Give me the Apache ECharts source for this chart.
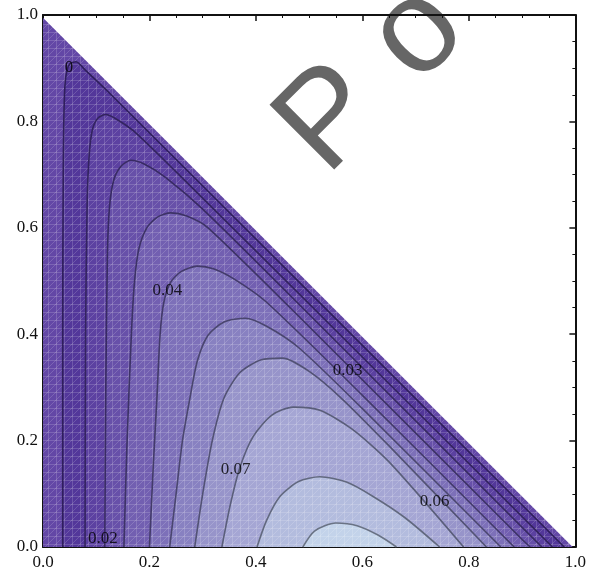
<!DOCTYPE html>
<html><head><meta charset="utf-8">
<script src="https://cdn.jsdelivr.net/npm/echarts@6/dist/echarts.min.js"></script>
<style>html,body{margin:0;padding:0;background:#fff}#c{width:589px;height:574px}</style>
</head><body><div id="c"></div>
<script>
// ---- data ----
const tickLabels = ['0.0','0.2','0.4','0.6','0.8','1.0'];
const triangle = [[0,0.995],[0.995,0]];
const c1 = [[0.037,0],[0.037,0.4],[0.038,0.7],[0.040,0.84],[0.043,0.885],[0.05,0.908],[0.062,0.912],[0.08,0.896],[0.12,0.858],[0.5,0.479],[0.9,0.079],[0.979,0]];
const c2 = [[0.079,0],[0.080,0.4],[0.083,0.65],[0.087,0.74],[0.093,0.785],[0.103,0.806],[0.118,0.813],[0.135,0.806],[0.17,0.782],[0.25,0.705],[0.5,0.457],[0.9,0.057],[0.957,0]];
const c3 = [[0.116,0],[0.118,0.3],[0.121,0.55],[0.125,0.64],[0.133,0.69],[0.147,0.716],[0.165,0.727],[0.19,0.72],[0.23,0.695],[0.3,0.635],[0.5,0.437],[0.9,0.037],[0.937,0]];
const c4 = [[0.152,0],[0.158,0.2],[0.166,0.4],[0.172,0.5],[0.18,0.56],[0.195,0.6],[0.215,0.62],[0.24,0.628],[0.27,0.622],[0.31,0.6],[0.5,0.414],[0.9,0.014],[0.915,0]];
const c5 = [[0.2,0],[0.207,0.15],[0.214,0.28],[0.22,0.4],[0.227,0.46],[0.24,0.498],[0.26,0.518],[0.29,0.528],[0.32,0.523],[0.36,0.503],[0.42,0.46],[0.6,0.285],[0.885,0]];
const c6 = [[0.238,0],[0.25,0.1],[0.262,0.2],[0.276,0.28],[0.29,0.35],[0.31,0.398],[0.34,0.423],[0.38,0.43],[0.42,0.415],[0.48,0.375],[0.6,0.26],[0.86,0]];
const c7 = [[0.285,0],[0.3,0.1],[0.318,0.2],[0.34,0.28],[0.37,0.328],[0.41,0.352],[0.45,0.355],[0.5,0.33],[0.56,0.28],[0.65,0.19],[0.833,0]];
const c8 = [[0.336,0],[0.352,0.08],[0.37,0.15],[0.395,0.208],[0.43,0.248],[0.47,0.263],[0.52,0.257],[0.58,0.222],[0.65,0.16],[0.79,0]];
const c9 = [[0.402,0],[0.42,0.05],[0.445,0.095],[0.48,0.123],[0.52,0.132],[0.57,0.122],[0.62,0.095],[0.68,0.055],[0.745,0]];
const c10 = [[0.488,0],[0.51,0.03],[0.55,0.045],[0.59,0.04],[0.63,0.022],[0.664,0]];
const contours = [c1,c2,c3,c4,c5,c6,c7,c8,c9,c10];
const outsideColor = '#6347a6';
const bandColors = ['#53379a','#5c41a1','#6750a9','#725fb1','#7d70b9','#8881c1','#9794ca','#a5a6d4','#b3bcde','#c3d3ea'];
const lineColors = ['#2f1f5c','#33245f','#382b63','#3d3366','#433b6a','#4a466f','#525274','#5a5e7a','#62697f','#6a7385'];
const contourLabels = [[0.0488,0.902,'0'],[0.1126,0.015,'0.02'],[0.2336,0.483,'0.04'],[0.572,0.331,'0.03'],[0.362,0.145,'0.07'],[0.7355,0.0846,'0.06']];

// ---- chart ----
const chart = echarts.init(document.getElementById('c'), null, {renderer:'canvas'});
const serif = 'Liberation Serif';
function meshFill(color){
  const cv = document.createElement('canvas');
  cv.width = 8; cv.height = 8;
  const g = cv.getContext('2d');
  g.fillStyle = color; g.fillRect(0,0,8,8);
  g.strokeStyle = 'rgba(255,255,255,0.16)'; g.lineWidth = 1;
  g.beginPath();
  g.moveTo(0.5,0); g.lineTo(0.5,8);
  g.moveTo(0,0.5); g.lineTo(8,0.5);
  g.moveTo(0,8); g.lineTo(8,0);
  g.stroke();
  return {image: cv, repeat: 'repeat'};
}
function axisX(pos, showLabel){
  return {type:'value', position:pos, min:0, max:1, interval:0.2,
    axisLine:{show:true, onZero:false, lineStyle:{color:'#111', width:2}},
    axisTick:{show:true, inside:true, length:6, lineStyle:{color:'#111', width:1.5}},
    minorTick:{show:true, splitNumber:4, length:3, lineStyle:{color:'#111', width:1}},
    splitLine:{show:false},
    axisLabel:{show:showLabel, margin:7, fontFamily:serif, fontSize:17, color:'#111',
      formatter:(v)=>tickLabels[Math.round(v/0.2)]}};
}
function axisY(pos, showLabel){
  const a = axisX(pos, showLabel);
  a.axisLabel.margin = 5;
  return a;
}
const series = [];
series.push({type:'line', data:triangle, symbol:'none', lineStyle:{width:0}, areaStyle:{color:meshFill(outsideColor), opacity:1}, silent:true, z:1});
contours.forEach((c,i)=>{
  series.push({type:'line', data:c, symbol:'none', smooth:0.25,
    lineStyle:{color:lineColors[i], width:1.6},
    areaStyle:{color:meshFill(bandColors[i]), opacity:1}, silent:true, z:2});
});
series.push({type:'scatter', data:contourLabels, symbolSize:0, z:10,
  label:{show:true, position:'inside', formatter:(p)=>p.data[2], fontFamily:serif, fontSize:17, color:'#000'}});

chart.setOption({
  animation:false,
  grid:{left:43, right:13, top:15, bottom:27},
  xAxis:[axisX('bottom', true), axisX('top', false)],
  yAxis:[axisY('left', true), axisY('right', false)],
  series: series,
  graphic:[
    {type:'text', x:332, y:120, rotation:Math.PI/4, style:{text:'P', font:'133px "Liberation Sans"', fill:'#666', textAlign:'center', textVerticalAlign:'middle'}},
    {type:'text', x:418, y:34, rotation:Math.PI/4, style:{text:'o', font:'133px "Liberation Sans"', fill:'#666', textAlign:'center', textVerticalAlign:'middle'}}
  ]
});
</script></body></html>
